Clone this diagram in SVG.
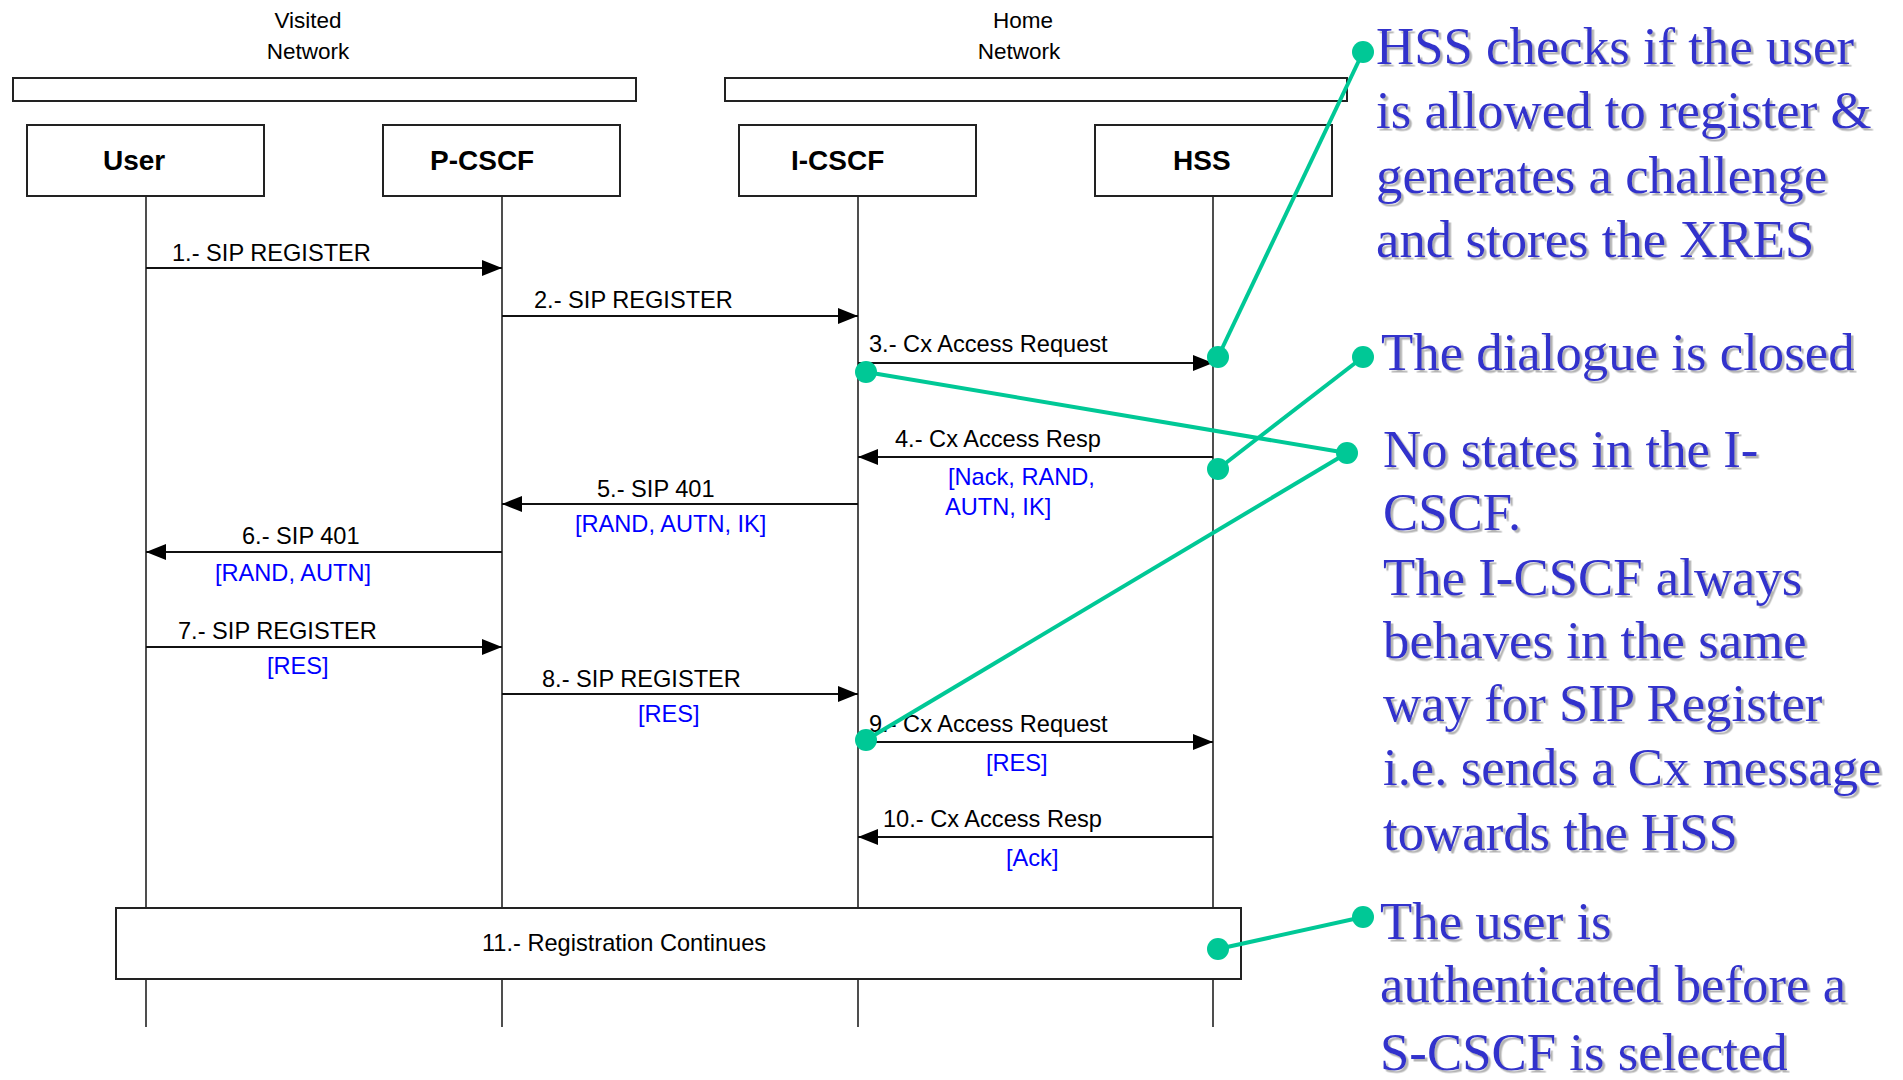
<svg xmlns="http://www.w3.org/2000/svg" width="1903" height="1080" viewBox="0 0 1903 1080">
  <style>
    .box { fill: #ffffff; stroke: #222222; stroke-width: 2; }
    .life { stroke: #222222; stroke-width: 1.6; fill: none; }
    .msg { stroke: #111111; stroke-width: 1.8; fill: none; }
    .node-label { font-family: "Liberation Sans", Arial, sans-serif; font-weight: bold; font-size: 28px; fill: #000000; }
    .hdr { font-family: "Liberation Sans", Arial, sans-serif; font-size: 22.5px; fill: #000000; text-anchor: middle; }
    .lbl { font-family: "Liberation Sans", Arial, sans-serif; font-size: 23.6px; fill: #000000; }
    .sub { font-family: "Liberation Sans", Arial, sans-serif; font-size: 23.6px; fill: #0000ff; }
    .note { font-family: "Liberation Serif", "Times New Roman", serif; font-size: 52.8px; fill: #3333cc; }
    .callout { stroke: #00c896; stroke-width: 4; fill: none; }
    .dot { fill: #00c896; }
  </style>
  <defs>
    <marker id="head" viewBox="0 0 20 16" refX="20" refY="8" markerWidth="20" markerHeight="16" markerUnits="userSpaceOnUse" orient="auto">
      <path d="M0,0 L20,8 L0,16 Z" fill="#000000"/>
    </marker>
    <filter id="shadow" x="-5%" y="-20%" width="110%" height="150%">
      <feDropShadow dx="2.5" dy="2.5" stdDeviation="0.6" flood-color="#b4b4b4" flood-opacity="1"/>
    </filter>
  </defs>

  <rect width="1903" height="1080" fill="#ffffff"/>

  <!-- network domains -->
  <g id="visited-network">
    <text class="hdr" x="308" y="28">Visited</text>
    <text class="hdr" x="308" y="59">Network</text>
    <rect class="box" x="13" y="78" width="623" height="23"/>
  </g>
  <g id="home-network">
    <text class="hdr" x="1023" y="28">Home</text>
    <text class="hdr" x="1019" y="59">Network</text>
    <rect class="box" x="725" y="78" width="622" height="23"/>
  </g>

  <!-- lifelines -->
  <g id="lifelines">
    <line class="life" x1="146" y1="196" x2="146" y2="1027"/>
    <line class="life" x1="502" y1="196" x2="502" y2="1027"/>
    <line class="life" x1="858" y1="196" x2="858" y2="1027"/>
    <line class="life" x1="1213" y1="196" x2="1213" y2="1027"/>
  </g>

  <!-- participants -->
  <g id="user">
    <rect class="box" x="27" y="125" width="237" height="71"/>
    <text class="node-label" x="103" y="170">User</text>
  </g>
  <g id="p-cscf">
    <rect class="box" x="383" y="125" width="237" height="71"/>
    <text class="node-label" x="430" y="170">P-CSCF</text>
  </g>
  <g id="i-cscf">
    <rect class="box" x="739" y="125" width="237" height="71"/>
    <text class="node-label" x="791" y="170">I-CSCF</text>
  </g>
  <g id="hss">
    <rect class="box" x="1095" y="125" width="237" height="71"/>
    <text class="node-label" x="1173" y="170">HSS</text>
  </g>

  <!-- messages -->
  <g id="messages">
    <line class="msg" x1="146" y1="268" x2="502" y2="268" marker-end="url(#head)"/>
    <text class="lbl" x="172" y="261">1.- SIP REGISTER</text>

    <line class="msg" x1="502" y1="316" x2="858" y2="316" marker-end="url(#head)"/>
    <text class="lbl" x="534" y="308">2.- SIP REGISTER</text>

    <line class="msg" x1="858" y1="363" x2="1213" y2="363" marker-end="url(#head)"/>
    <text class="lbl" x="869" y="352">3.- Cx Access Request</text>

    <line class="msg" x1="1213" y1="457" x2="858" y2="457" marker-end="url(#head)"/>
    <text class="lbl" x="895" y="447">4.- Cx Access Resp</text>
    <text class="sub" x="948" y="485">[Nack, RAND,</text>
    <text class="sub" x="945" y="515">AUTN, IK]</text>

    <line class="msg" x1="858" y1="504" x2="502" y2="504" marker-end="url(#head)"/>
    <text class="lbl" x="597" y="497">5.- SIP 401</text>
    <text class="sub" x="575" y="532">[RAND, AUTN, IK]</text>

    <line class="msg" x1="502" y1="552" x2="146" y2="552" marker-end="url(#head)"/>
    <text class="lbl" x="242" y="544">6.- SIP 401</text>
    <text class="sub" x="215" y="581">[RAND, AUTN]</text>

    <line class="msg" x1="146" y1="647" x2="502" y2="647" marker-end="url(#head)"/>
    <text class="lbl" x="178" y="639">7.- SIP REGISTER</text>
    <text class="sub" x="267" y="674">[RES]</text>

    <line class="msg" x1="502" y1="694" x2="858" y2="694" marker-end="url(#head)"/>
    <text class="lbl" x="542" y="687">8.- SIP REGISTER</text>
    <text class="sub" x="638" y="722">[RES]</text>

    <line class="msg" x1="858" y1="742" x2="1213" y2="742" marker-end="url(#head)"/>
    <text class="lbl" x="869" y="732">9.- Cx Access Request</text>
    <text class="sub" x="986" y="771">[RES]</text>

    <line class="msg" x1="1213" y1="837" x2="858" y2="837" marker-end="url(#head)"/>
    <text class="lbl" x="883" y="827">10.- Cx Access Resp</text>
    <text class="sub" x="1006" y="866">[Ack]</text>
  </g>

  <!-- continuation bar across all lifelines -->
  <g id="registration-continues">
    <rect class="box" x="116" y="908" width="1125" height="71"/>
    <text class="lbl" x="482" y="951">11.- Registration Continues</text>
  </g>

  <!-- explanatory notes -->
  <g id="notes" filter="url(#shadow)">
    <g id="note-hss">
      <text class="note" x="1376" y="64">HSS checks if the user</text>
      <text class="note" x="1376" y="128">is allowed to register &amp;</text>
      <text class="note" x="1376" y="193">generates a challenge</text>
      <text class="note" x="1376" y="257">and stores the XRES</text>
    </g>
    <g id="note-dialogue">
      <text class="note" x="1381" y="370">The dialogue is closed</text>
    </g>
    <g id="note-stateless">
      <text class="note" x="1383" y="467">No states in the I-</text>
      <text class="note" x="1383" y="530">CSCF.</text>
      <text class="note" x="1383" y="595">The I-CSCF always</text>
      <text class="note" x="1383" y="658">behaves in the same</text>
      <text class="note" x="1383" y="721">way for SIP Register</text>
      <text class="note" x="1383" y="785">i.e. sends a Cx message</text>
      <text class="note" x="1383" y="850">towards the HSS</text>
    </g>
    <g id="note-authenticated">
      <text class="note" x="1380" y="939">The user is</text>
      <text class="note" x="1380" y="1002">authenticated before a</text>
      <text class="note" x="1380" y="1070">S-CSCF is selected</text>
    </g>
  </g>

  <!-- callout connectors -->
  <g id="callouts">
    <line class="callout" x1="1218" y1="357" x2="1363" y2="52"/>
    <line class="callout" x1="866" y1="372" x2="1347" y2="453"/>
    <line class="callout" x1="1218" y1="469" x2="1363" y2="357"/>
    <line class="callout" x1="866" y1="740" x2="1347" y2="453"/>
    <line class="callout" x1="1218" y1="949" x2="1363" y2="917"/>
    <circle class="dot" cx="1218" cy="357" r="11"/>
    <circle class="dot" cx="1363" cy="52" r="11"/>
    <circle class="dot" cx="866" cy="372" r="11"/>
    <circle class="dot" cx="1347" cy="453" r="11"/>
    <circle class="dot" cx="1218" cy="469" r="11"/>
    <circle class="dot" cx="1363" cy="357" r="11"/>
    <circle class="dot" cx="866" cy="740" r="11"/>
    <circle class="dot" cx="1218" cy="949" r="11"/>
    <circle class="dot" cx="1363" cy="917" r="11"/>
  </g>
</svg>
